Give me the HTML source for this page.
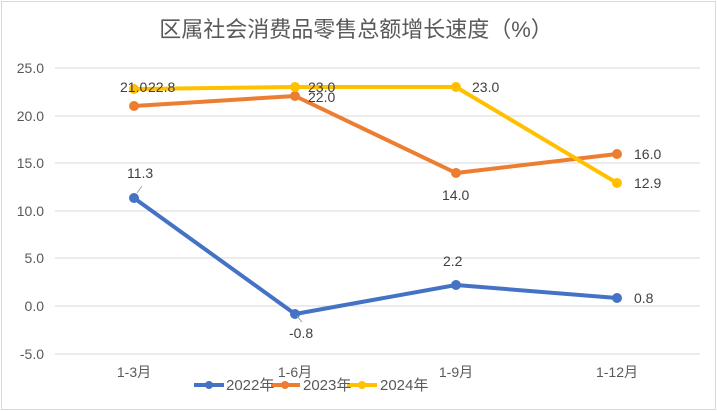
<!DOCTYPE html>
<html><head><meta charset="utf-8"><style>
body{margin:0;background:#fff}
svg{display:block;font-family:"Liberation Sans","Noto Sans CJK SC",sans-serif}
</style></head><body>
<svg width="717" height="411" viewBox="0 0 717 411">
<rect x="1.5" y="1.5" width="714" height="408" fill="#fff" stroke="#d9d9d9"/>
<text x="356" y="37" text-anchor="middle" font-size="22" fill="#595959">区属社会消费品零售总额增长速度（%）</text>
<g stroke="#d9d9d9" stroke-width="1">
<line x1="55" x2="700" y1="68" y2="68"/><line x1="55" x2="700" y1="116" y2="116"/>
<line x1="55" x2="700" y1="163" y2="163"/><line x1="55" x2="700" y1="211" y2="211"/>
<line x1="55" x2="700" y1="258" y2="258"/><line x1="55" x2="700" y1="306" y2="306"/>
<line x1="55" x2="700" y1="354" y2="354"/>
</g>
<g font-size="14" fill="#595959" text-anchor="end">
<text x="44" y="73">25.0</text><text x="44" y="121">20.0</text><text x="44" y="168">15.0</text>
<text x="44" y="216">10.0</text><text x="44" y="263">5.0</text><text x="44" y="311">0.0</text><text x="44" y="359">-5.0</text>
</g>
<g font-size="14" fill="#595959" text-anchor="middle">
<text x="134" y="377">1-3月</text><text x="295" y="377">1-6月</text><text x="456" y="377">1-9月</text><text x="617" y="377">1-12月</text>
</g>
<g fill="none" stroke-width="4" stroke-linejoin="round">
<polyline stroke="#4472c4" points="134,198 295,314 456,285 617,298"/>
<polyline stroke="#ed7d31" points="134,106 295,96 456,173 617,154"/>
<polyline stroke="#ffc000" points="134,89 295,87 456,87 617,183"/>
</g>
<g fill="#4472c4"><circle cx="134" cy="198" r="5"/><circle cx="295" cy="314" r="5"/><circle cx="456" cy="285" r="5"/><circle cx="617" cy="298" r="5"/></g>
<g fill="#ed7d31"><circle cx="134" cy="106" r="5"/><circle cx="295" cy="96" r="5"/><circle cx="456" cy="173" r="5"/><circle cx="617" cy="154" r="5"/></g>
<g fill="#ffc000"><circle cx="134" cy="89" r="5"/><circle cx="295" cy="87" r="5"/><circle cx="456" cy="87" r="5"/><circle cx="617" cy="183" r="5"/></g>
<g stroke="#a6a6a6" stroke-width="1"><line x1="137" y1="193" x2="142" y2="186"/><line x1="297" y1="316" x2="302" y2="322"/></g>
<g font-size="14" fill="#404040">
<text x="120" y="92">21.0</text><text x="148" y="92">22.8</text>
<text x="308" y="92">23.0</text><text x="308" y="102">22.0</text>
<text x="472" y="92">23.0</text><text x="442" y="200">14.0</text>
<text x="634" y="159">16.0</text><text x="634" y="188">12.9</text>
<text x="127" y="178">11.3</text><text x="289" y="338">-0.8</text>
<text x="443" y="266">2.2</text><text x="634" y="303">0.8</text>
</g>
<g stroke-width="4">
<line x1="194" y1="385" x2="224" y2="385" stroke="#4472c4"/><circle cx="209" cy="385" r="4" fill="#4472c4"/>
<line x1="271" y1="385" x2="300" y2="385" stroke="#ed7d31"/><circle cx="285" cy="385" r="4" fill="#ed7d31"/>
<line x1="347" y1="385" x2="377" y2="385" stroke="#ffc000"/><circle cx="362" cy="385" r="4" fill="#ffc000"/>
</g>
<g font-size="15" fill="#595959">
<text x="226" y="390">2022年</text><text x="303" y="390">2023年</text><text x="380" y="390">2024年</text>
</g>
</svg>
</body></html>
